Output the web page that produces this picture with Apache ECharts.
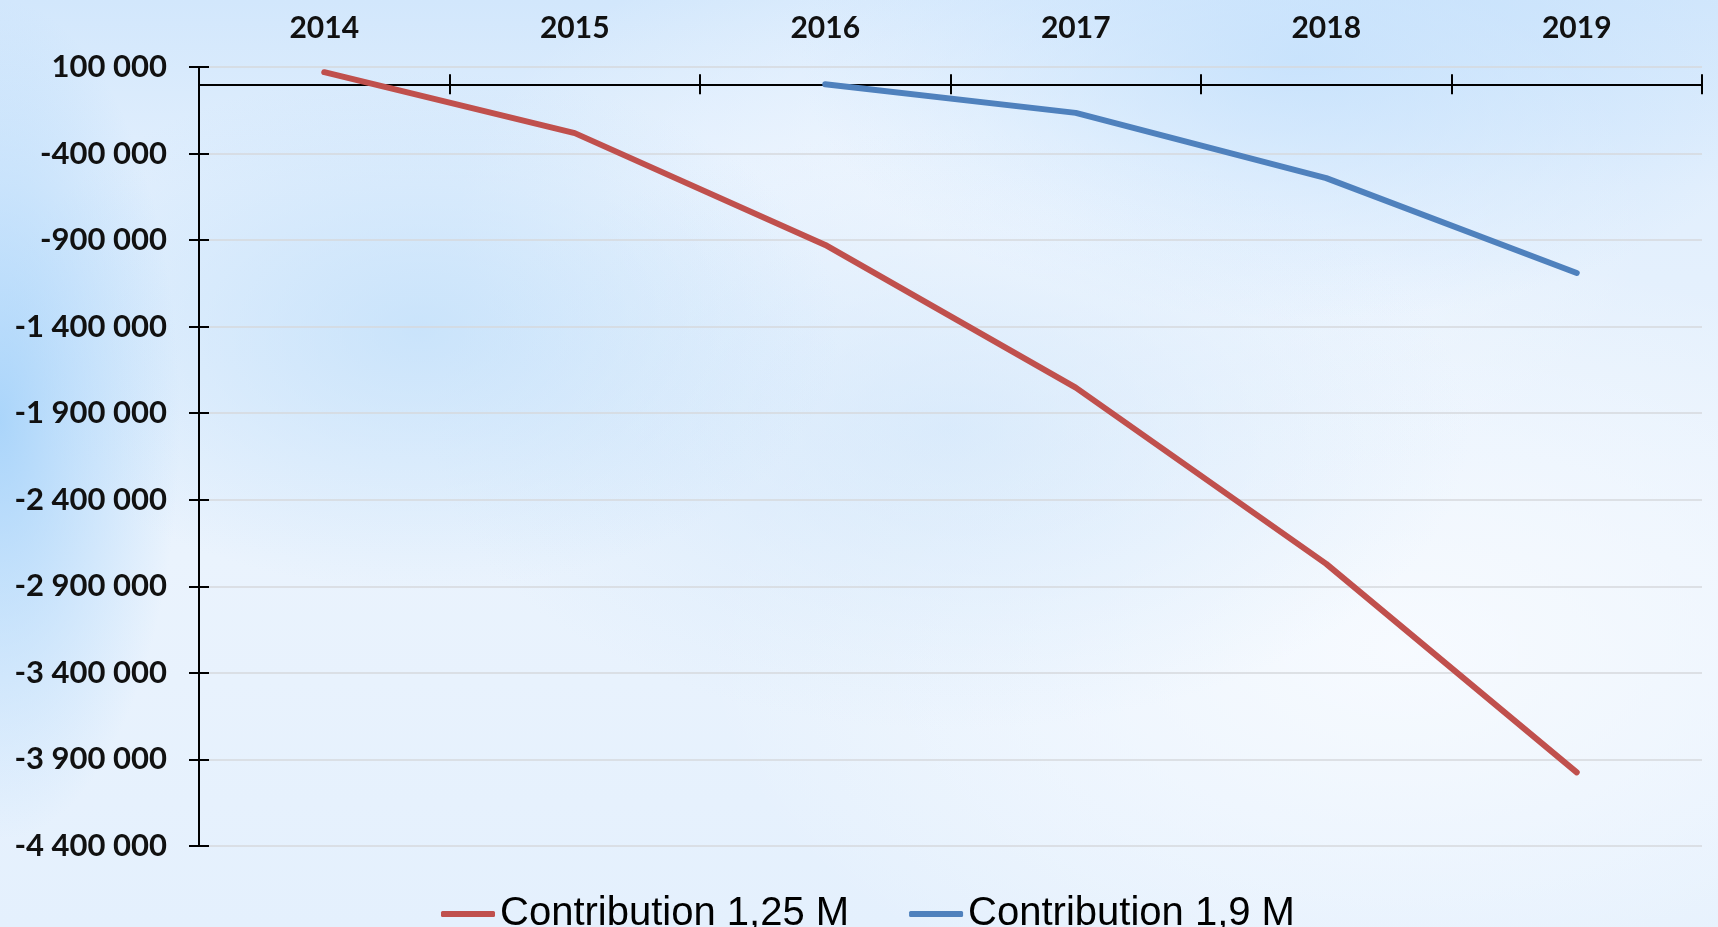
<!DOCTYPE html>
<html>
<head>
<meta charset="utf-8">
<script src="https://cdn.jsdelivr.net/npm/echarts@6/dist/echarts.min.js"></script>
<style>
  html, body {
    margin: 0;
    padding: 0;
  }
  #chart {
    width: 1718px;
    height: 927px;
    background:
      radial-gradient(ellipse 180px 420px at 0px 420px, rgba(160, 208, 250, 0.85), rgba(160, 208, 250, 0) 100%),
      radial-gradient(ellipse 420px 260px at 420px 330px, rgba(190, 222, 250, 0.7), rgba(190, 222, 250, 0) 100%),
      radial-gradient(ellipse 520px 300px at 950px 430px, rgba(205, 228, 250, 0.6), rgba(205, 228, 250, 0) 100%),
      radial-gradient(ellipse 500px 260px at 1300px 60px, rgba(195, 224, 252, 0.8), rgba(195, 224, 252, 0) 100%),
      radial-gradient(ellipse 600px 320px at 1050px 220px, rgba(245, 249, 255, 0.9), rgba(245, 249, 255, 0) 100%),
      radial-gradient(ellipse 700px 400px at 1400px 650px, rgba(248, 251, 255, 0.9), rgba(248, 251, 255, 0) 100%),
      linear-gradient(to bottom, #d2e7fc 0%, #e2effd 20%, #eaf3fd 60%, #e4f0fd 100%);
  }
</style>
</head>
<body>
<div id="chart"></div>
<script>
const years = ["2014", "2015", "2016", "2017", "2018", "2019"];
const contribution125 = [70000, -282000, -928000, -1752000, -2770000, -3975000];
const contribution19 = [null, null, 0, -165000, -542000, -1090000];
const seriesNames = ["Contribution 1,25 M", "Contribution 1,9 M"];

const yMin = -4400000;
const yMax = 100000;
const yStep = 500000;

const chart = echarts.init(document.getElementById("chart"));

// thousands with a space, like "-1 400 000"
const fmt = (v) => String(v).replace(/\B(?=(\d{3})+(?!\d))/g, " ");

const tickStyle = { color: "#000", width: 2 };

chart.setOption({
  animation: false,
  backgroundColor: "transparent",
  grid: {
    left: 199,
    top: 67,
    width: 1503,
    height: 779,
    containLabel: false,
  },
  legend: {
    data: seriesNames,
    left: 436,
    top: 889,
    itemWidth: 54,
    itemHeight: 6,
    itemGap: 60,
    icon: "roundRect",
    textStyle: {
      fontFamily: "Liberation Sans",
      fontSize: 40,
      color: "#000",
    },
  },
  xAxis: [
    {
      // year labels along the top
      type: "category",
      data: years,
      position: "top",
      boundaryGap: true,
      axisLine: { show: false, onZero: false },
      axisTick: { show: false },
      splitLine: { show: false },
      axisLabel: {
        margin: 24,
        color: "#111",
        fontFamily: "Lato",
        fontWeight: "bold",
        fontSize: 30,
      },
    },
    {
      // line at zero, ticks pointing up
      type: "category",
      data: years,
      position: "top",
      boundaryGap: true,
      axisLine: { show: true, onZero: true, lineStyle: tickStyle },
      axisTick: { show: true, length: 10, lineStyle: tickStyle },
      axisLabel: { show: false },
      splitLine: { show: false },
    },
    {
      // same line, ticks pointing down
      type: "category",
      data: years,
      position: "top",
      boundaryGap: true,
      axisLine: { show: true, onZero: true, lineStyle: tickStyle },
      axisTick: { show: true, inside: true, length: 10, lineStyle: tickStyle },
      axisLabel: { show: false },
      splitLine: { show: false },
    },
  ],
  yAxis: [
    {
      type: "value",
      position: "left",
      min: yMin,
      max: yMax,
      interval: yStep,
      axisLine: { show: true, lineStyle: tickStyle },
      axisTick: { show: true, length: 10, lineStyle: tickStyle },
      axisLabel: {
        margin: 32,
        color: "#111",
        fontFamily: "Lato",
        fontWeight: "bold",
        fontSize: 31,
        formatter: fmt,
      },
      splitLine: {
        show: true,
        lineStyle: { color: "#d6d9dc", width: 1.5 },
      },
    },
    {
      type: "value",
      position: "left",
      min: yMin,
      max: yMax,
      interval: yStep,
      axisLine: { show: false },
      axisTick: { show: true, inside: true, length: 10, lineStyle: tickStyle },
      axisLabel: { show: false },
      splitLine: { show: false },
    },
  ],
  series: [
    {
      name: seriesNames[0],
      type: "line",
      xAxisIndex: 1,
      yAxisIndex: 0,
      data: contribution125,
      symbol: "none",
      color: "#C0504D",
      lineStyle: { width: 6, cap: "round", join: "round" },
    },
    {
      name: seriesNames[1],
      type: "line",
      xAxisIndex: 1,
      yAxisIndex: 0,
      data: contribution19,
      symbol: "none",
      color: "#4F81BD",
      lineStyle: { width: 6, cap: "round", join: "round" },
    },
  ],
});
</script>
</body>
</html>
